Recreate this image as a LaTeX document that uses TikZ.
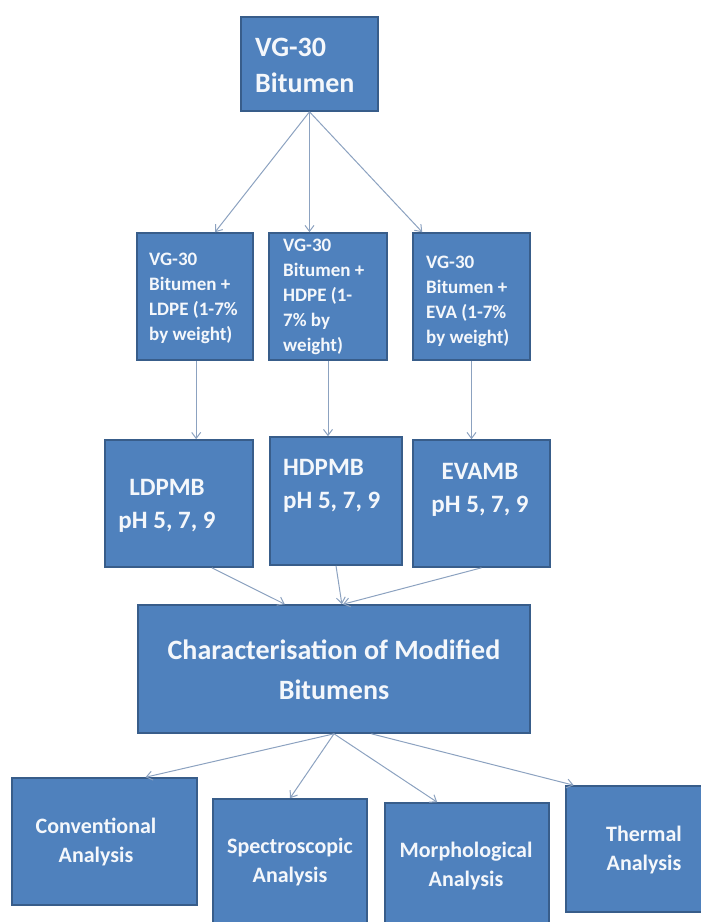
\documentclass[tikz,border=0pt]{standalone}
\usepackage{fontspec}
\setmainfont{Carlito}
\usetikzlibrary{arrows.meta,calc}
\definecolor{boxfill}{HTML}{4F81BD}
\definecolor{boxline}{HTML}{385D8A}
\definecolor{arrowc}{RGB}{140,162,192}
\definecolor{txt}{HTML}{F4F7FB}
\tikzset{
  box/.style={draw=boxline, fill=boxfill, line width=1.6pt, inner sep=0pt},
  lbl/.style={text=txt, inner sep=0pt, font=\bfseries},
  conn/.style={draw=arrowc, line width=1pt, -{Straight Barb[length=6pt,width=9pt]}},
}
\begin{document}
\begin{tikzpicture}[x=1pt,y=-1pt]
\useasboundingbox (0,0) rectangle (701,922);
% boxes
\node[box, minimum width=137pt, minimum height=94pt] (top) at (309.5,64) {};
\node[box, minimum width=116pt, minimum height=127pt] (b1) at (195,296.5) {};
\node[box, minimum width=118pt, minimum height=127pt] (b2) at (328,296.5) {};
\node[box, minimum width=117pt, minimum height=127pt] (b3) at (471.5,296.5) {};
\node[box, minimum width=148pt, minimum height=127pt] (m1) at (179,503.5) {};
\node[box, minimum width=132pt, minimum height=128pt] (m2) at (336,501) {};
\node[box, minimum width=137pt, minimum height=127pt] (m3) at (481.5,503.5) {};
\node[box, minimum width=392pt, minimum height=128pt] (ch) at (334,669) {};
\node[box, minimum width=185pt, minimum height=127pt] (a1) at (104.5,841.5) {};
\node[box, minimum width=154pt, minimum height=126pt] (a2) at (290,862) {};
\node[box, minimum width=164pt, minimum height=122pt] (a3) at (467,864) {};
\node[box, minimum width=139pt, minimum height=126pt] (a4) at (635.5,849) {};
% texts
\node[lbl, anchor=west, align=left, font=\fontsize{28}{36}\selectfont\bfseries] (ttop) at (255,65) {VG-30\\Bitumen};
\node[lbl, anchor=west, align=left, font=\fontsize{19}{25}\selectfont\bfseries] (tb1) at (149,298) {VG-30\\Bitumen +\\LDPE (1-7\%\\by weight)};
\node[lbl, anchor=west, align=left, font=\fontsize{19}{25}\selectfont\bfseries] (tb2) at (283,297) {VG-30\\Bitumen +\\HDPE (1-\\7\% by\\weight)};
\node[lbl, anchor=west, align=left, font=\fontsize{19}{25}\selectfont\bfseries] (tb3) at (426,301) {VG-30\\Bitumen +\\EVA (1-7\%\\by weight)};
\node[lbl, align=center, font=\fontsize{25}{33}\selectfont\bfseries] (tm1) at (167,506) {LDPMB\\pH 5, 7, 9};
\node[lbl, anchor=west, align=left, font=\fontsize{25}{33}\selectfont\bfseries] (tm2) at (283,486) {HDPMB\\pH 5, 7, 9};
\node[lbl, align=center, font=\fontsize{25}{33}\selectfont\bfseries] (tm3) at (480,490) {EVAMB\\pH 5, 7, 9};
\node[lbl, align=center, font=\fontsize{28}{40}\selectfont\bfseries] (tch) at (334,670) {Characterisation of Modified\\Bitumens};
\node[lbl, align=center, font=\fontsize{22}{29}\selectfont\bfseries] (ta1) at (96,842) {Conventional\\Analysis};
\node[lbl, align=center, font=\fontsize{22}{29}\selectfont\bfseries] (ta2) at (290,862) {Spectroscopic\\Analysis};
\node[lbl, align=center, font=\fontsize{22}{29}\selectfont\bfseries] (ta3) at (466,866) {Morphological\\Analysis};
\node[lbl, align=center, font=\fontsize{22}{29}\selectfont\bfseries] (ta4) at (644,850) {Thermal\\Analysis};
% connectors
\coordinate (b1s) at ($(b1.south west)!0.51!(b1.south east)$);
\draw[conn] (top.south) -- ($(b1.north west)!0.67!(b1.north east)$);
\draw[conn] (top.south) -- (top.south |- b2.north);
\draw[conn] (top.south) -- ($(b3.north west)!0.085!(b3.north east)$);
\draw[conn] (b1s) -- (b1s |- m1.north);
\draw[conn] (b2.south) -- (b2.south |- m2.north);
\draw[conn] (b3.south) -- (b3.south |- m3.north);
\draw[conn] ($(m1.south west)!0.72!(m1.south east)$) -- ($(ch.north west)!0.375!(ch.north east)$);
\draw[conn] (m2.south) -- ($(ch.north west)!0.52!(ch.north east)$);
\draw[conn] (m3.south) -- ($(ch.north west)!0.523!(ch.north east)$);
\draw[conn] (ch.south) -- ($(a1.north west)!0.72!(a1.north east)$);
\draw[conn] (ch.south) -- (a2.north);
\draw[conn] ($(ch.south west)!0.50!(ch.south east)$) -- ($(a3.north west)!0.32!(a3.north east)$);
\draw[conn] ($(ch.south west)!0.595!(ch.south east)$) -- ($(a4.north west)!0.06!(a4.north east)$);
\end{tikzpicture}
\end{document}
